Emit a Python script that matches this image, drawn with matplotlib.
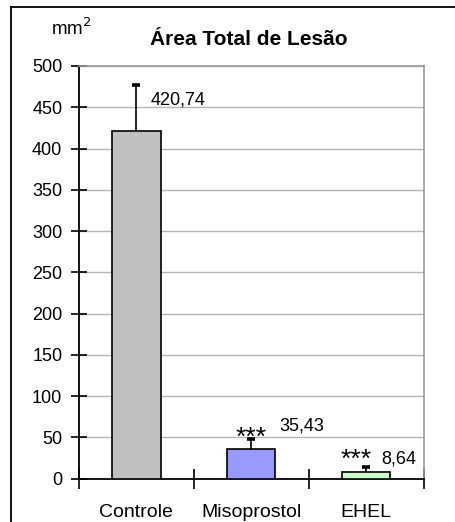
import matplotlib
matplotlib.use("Agg")
import matplotlib.pyplot as plt
from matplotlib.lines import Line2D
import numpy as np

# data
grupos = ["Controle", "Misoprostol", "EHEL"]
area = [420.74, 35.43, 8.64]
erro = [56.3, 12.5, 6.0]
rotulos = ["420,74", "35,43", "8,64"]
signif = ["", "***", "***"]
cores = ["#C0C0C0", "#9999FF", "#CCFFCC"]
yticks = [0, 50, 100, 150, 200, 250, 300, 350, 400, 450, 500]

plt.rcParams["font.family"] = ["Liberation Sans", "DejaVu Sans"]

fig = plt.figure(figsize=(4.55, 5.22), dpi=100)
ax = fig.add_axes([0.1736, 0.0830, 0.7572, 0.7906])

x = np.arange(len(grupos))
ax.bar(x, area, width=0.42, color=cores, edgecolor="black", linewidth=1.2, zorder=3)
eb = ax.errorbar(x, area, yerr=[np.zeros(len(erro)), erro], fmt="none", ecolor="black",
                 elinewidth=1.2, capsize=2.6, capthick=2.6, zorder=4)
# only the upper cap is drawn
eb[1][0].set_visible(False)

# value labels and significance stars
lab_dx = [0.127, 0.242, 0.13]
lab_dy = [-18, 16, 9.5]
star_dx = [0, 0.002, -0.087]
star_dy = [0, -7, -0.5]
for i in range(len(grupos)):
    top = area[i] + erro[i]
    ax.text(x[i] + lab_dx[i], top + lab_dy[i], rotulos[i], fontsize=13,
            va="center", ha="left")
    if signif[i]:
        ax.text(x[i] + star_dx[i], top + star_dy[i], signif[i], fontsize=19,
                va="baseline", ha="center")

ax.set_xlim(-0.5, 2.5)
ax.set_ylim(0, 500)
ax.set_yticks(yticks)
ax.set_yticklabels([str(v) for v in yticks], fontsize=13)
ax.set_xticks(x)
ax.set_xticklabels(grupos, fontsize=14)
ax.tick_params(axis="x", length=0, pad=18)
ax.tick_params(axis="y", direction="inout", length=12, width=1.2, pad=6)

# category boundary ticks on x axis
ax.set_xticks([-0.5, 0.5, 1.5, 2.5], minor=True)
ax.tick_params(axis="x", which="minor", direction="inout", length=14, width=1.2)

ax.yaxis.grid(True, color="#B4B4B4", linewidth=1.0, zorder=0)
ax.set_axisbelow(True)
ax.spines["left"].set_linewidth(1.3)
ax.spines["bottom"].set_linewidth(1.3)
ax.spines["top"].set_color("#999999")
ax.spines["right"].set_color("#999999")
ax.spines["top"].set_linewidth(1.2)
ax.spines["right"].set_linewidth(1.2)

fig.text(0.546, 0.925, "Área Total de Lesão", fontsize=15, fontweight="bold",
         ha="center", va="center")
fig.text(0.157, 0.945, "mm$^2$", fontsize=13.5, ha="center", va="center")

# outer frame (left and top edges visible)
fig.add_artist(Line2D([0.024, 0.024], [0.0, 0.987], color="black", linewidth=1.3))
fig.add_artist(Line2D([0.024, 1.0], [0.987, 0.987], color="black", linewidth=1.3))

fig.savefig("out.png", dpi=100)
